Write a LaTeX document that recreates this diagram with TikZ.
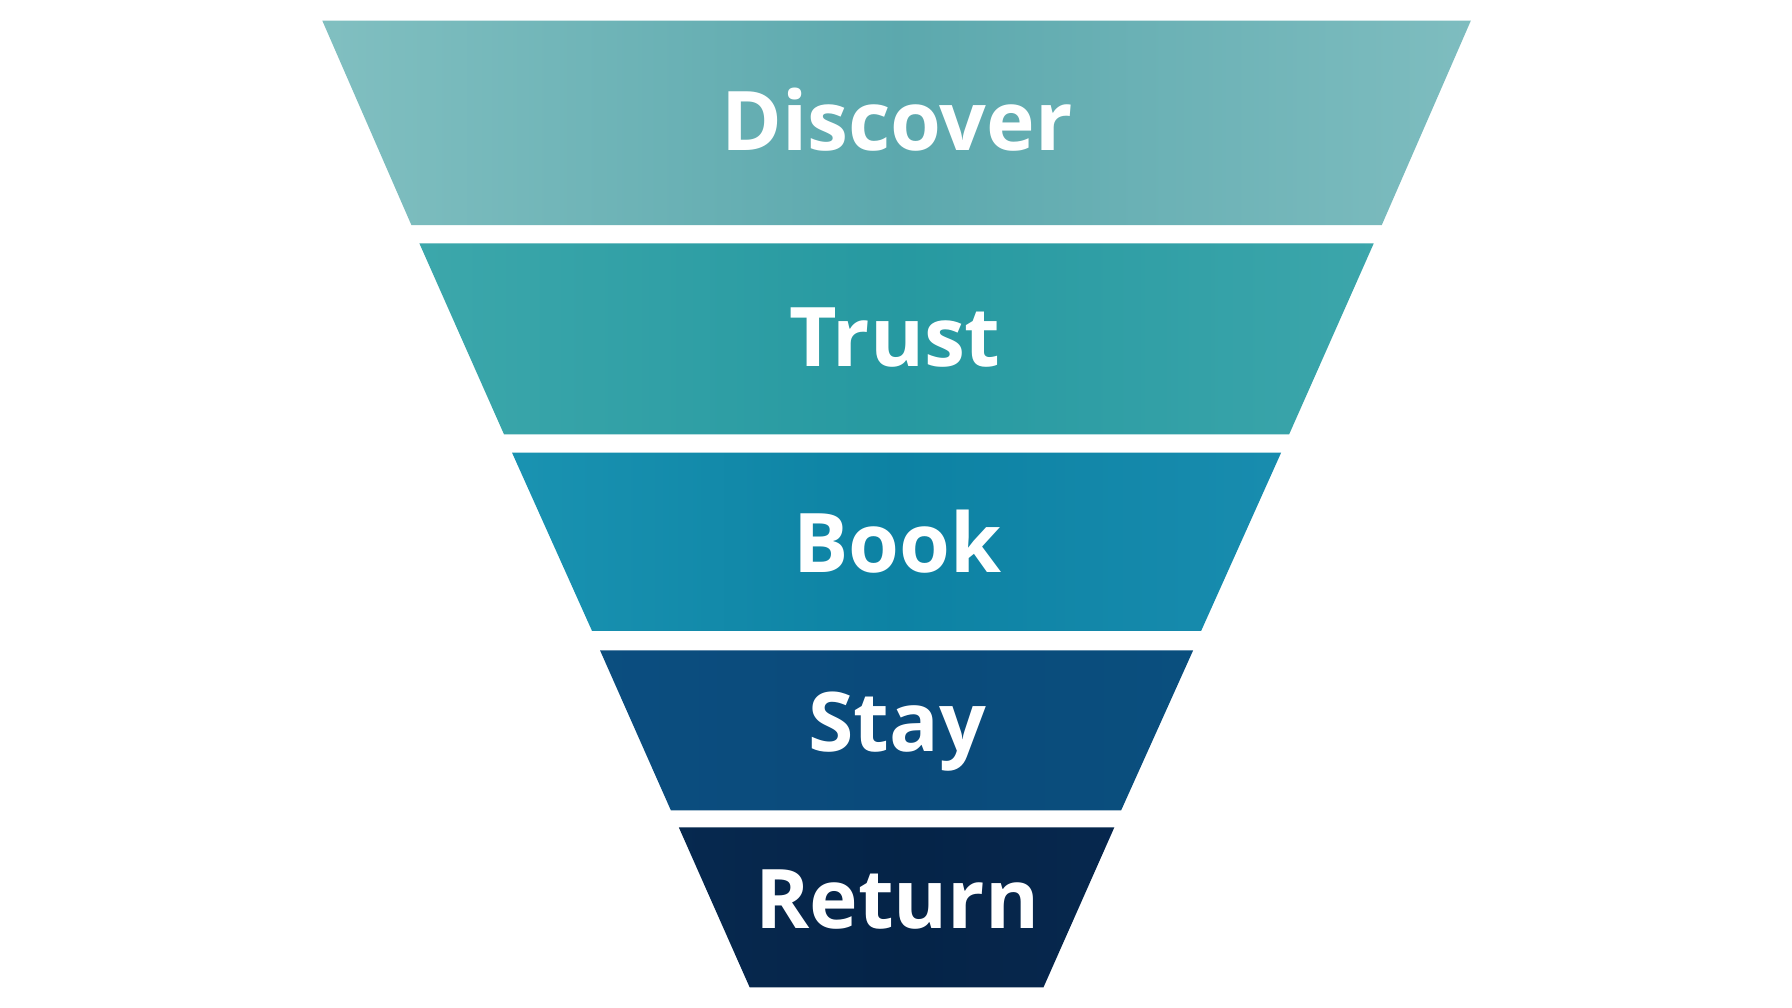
\documentclass[tikz,border=0pt]{standalone}
\usepackage{fontspec}
\setmainfont{Open Sans}
\pgfdeclarehorizontalshading{sa}{100bp}{rgb(0bp)=(0.65,0.84,0.83); rgb(50bp)=(0.36,0.66,0.68); rgb(100bp)=(0.63,0.82,0.82)}
\pgfdeclarehorizontalshading{sb}{100bp}{rgb(0bp)=(0.32,0.71,0.71); rgb(50bp)=(0.15,0.60,0.63); rgb(100bp)=(0.32,0.70,0.71)}
\pgfdeclarehorizontalshading{sc}{100bp}{rgb(0bp)=(0.15,0.64,0.75); rgb(50bp)=(0.05,0.51,0.64); rgb(100bp)=(0.14,0.59,0.73)}
\pgfdeclarehorizontalshading{sd}{100bp}{rgb(0bp)=(0.05,0.32,0.52); rgb(50bp)=(0.04,0.29,0.48); rgb(100bp)=(0.04,0.33,0.51)}
\pgfdeclarehorizontalshading{se}{100bp}{rgb(0bp)=(0.03,0.18,0.34); rgb(50bp)=(0.02,0.14,0.28); rgb(100bp)=(0.03,0.17,0.33)}
\begin{document}
\begin{tikzpicture}[x=0.5pt,y=-0.5pt,
  lbl/.style={text=white,font=\fontsize{36}{38}\selectfont\bfseries,inner sep=0pt}]
\useasboundingbox (0,0) rectangle (1568,882);
\fill[white] (0,0) rectangle (1568,882);
\shade[shading=sa] (282,18)--(1287,18)--(1209,197)--(360,197)--cycle;
\shade[shading=sb] (367,213)--(1202,213)--(1128,380)--(441,380)--cycle;
\shade[shading=sc] (448,396)--(1121,396)--(1051,552)--(518,552)--cycle;
\shade[shading=sd] (525,569)--(1044,569)--(981,709)--(587,709)--cycle;
\shade[shading=se] (594,724)--(975,724)--(913,864)--(656,864)--cycle;
\node[lbl] (d) at (785,105) {Discover};
\node[lbl] (t) at (783,295) {Trust};
\node[lbl] (b) at (785,474) {Book};
\node[lbl] (s) at (785,640) {Stay};
\node[lbl] (r) at (785,787) {Return};
\end{tikzpicture}
\end{document}
